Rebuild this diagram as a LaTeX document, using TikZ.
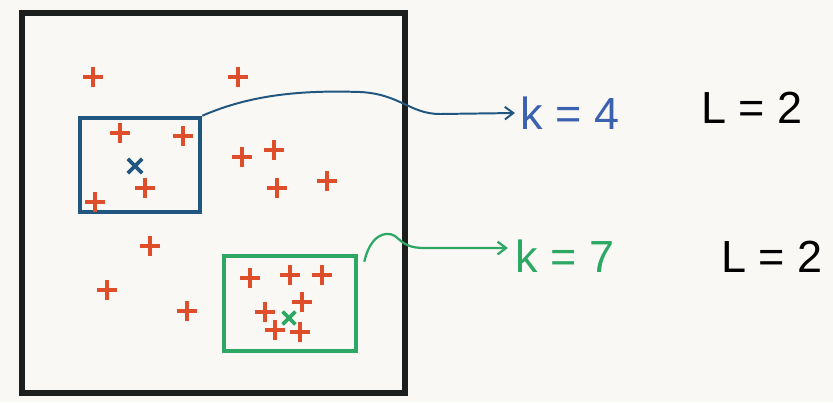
\documentclass[tikz,border=0pt]{standalone}
\usepackage{fontspec}
\setmainfont{Liberation Sans}
\usetikzlibrary{arrows.meta}
\definecolor{paper}{RGB}{250,248,244}
\definecolor{crossred}{RGB}{222,78,42}
\definecolor{boxblue}{RGB}{32,86,128}
\definecolor{txtblue}{RGB}{58,98,175}
\definecolor{boxgreen}{RGB}{44,168,100}
\definecolor{frameblack}{RGB}{28,30,30}
\tikzset{
  frame/.style={draw=frameblack, line width=4.2pt, inner sep=0pt, minimum width=9.575cm, minimum height=9.5cm},
  bluebox/.style={draw=boxblue, line width=3.2pt, inner sep=0pt, minimum width=3cm, minimum height=2.35cm},
  greenbox/.style={draw=boxgreen, line width=3.2pt, inner sep=0pt, minimum width=3.3cm, minimum height=2.375cm},
  pluspt/.style={crossred, line width=2.6pt},
  bluelink/.style={draw=boxblue, line width=1.4pt, -{Straight Barb[length=6pt,width=9pt]}},
  greenlink/.style={draw=boxgreen, line width=1.6pt, -{Straight Barb[length=6pt,width=9pt]}},
  lab/.style={inner sep=1pt, font=\fontsize{32}{34}\selectfont}
}
\begin{document}
\begin{tikzpicture}[x=0.025cm,y=-0.025cm]
\fill[paper] (0,0) rectangle (833,402);
\useasboundingbox (0,0) rectangle (833,402);
\node[frame] (F) at (213.5,203) {};
\node[bluebox] (B) at (140,165) {};
\node[greenbox] (G) at (290,303.5) {};
% red pluses
\foreach \x/\y [count=\i] in {93/77,238/77,120/133,183/136,145/188,95/202,242/157,274/150,277/188,327/181,150/246,107/290,187/311,250/278,290/275,322/275,265/312,302/302,275/330,300/332}{
  \coordinate (p\i) at (\x,\y);
  \draw[pluspt] ([xshift=-0.26cm]p\i) -- ([xshift=0.26cm]p\i) ([yshift=-0.26cm]p\i) -- ([yshift=0.26cm]p\i);
}
% centres
\coordinate (cb) at (135,166);
\draw[boxblue, line width=2.6pt] ([shift={(-0.18cm,-0.18cm)}]cb) -- ([shift={(0.18cm,0.18cm)}]cb) ([shift={(-0.18cm,0.18cm)}]cb) -- ([shift={(0.18cm,-0.18cm)}]cb);
\coordinate (cg) at (289,318);
\draw[boxgreen, line width=2.6pt] ([shift={(-0.16cm,-0.16cm)}]cg) -- ([shift={(0.16cm,0.16cm)}]cg) ([shift={(-0.16cm,0.16cm)}]cg) -- ([shift={(0.16cm,-0.16cm)}]cg);
% labels
\node[lab, txtblue] (k4) at (570,113) {k = 4};
\node[lab, black] (l1) at (752,108) {L = 2};
\node[lab, boxgreen] (k7) at (565,256) {k = 7};
\node[lab, black] (l2) at (772,257) {L = 2};
% connectors
\draw[bluelink] (B.north east) .. controls (250,95) and (300,90) .. (360,92) .. controls (400,94) and (410,114) .. (440,114) -- ([xshift=-0.1cm]k4.west);
\draw[greenlink] ([shift={(0.15cm,-0.2cm)}]G.north east) .. controls (370,236) and (385,230) .. (395,236) .. controls (405,245) and (410,248) .. (425,248) -- ([shift={(-0.15cm,0.2cm)}]k7.west);
\end{tikzpicture}
\end{document}
